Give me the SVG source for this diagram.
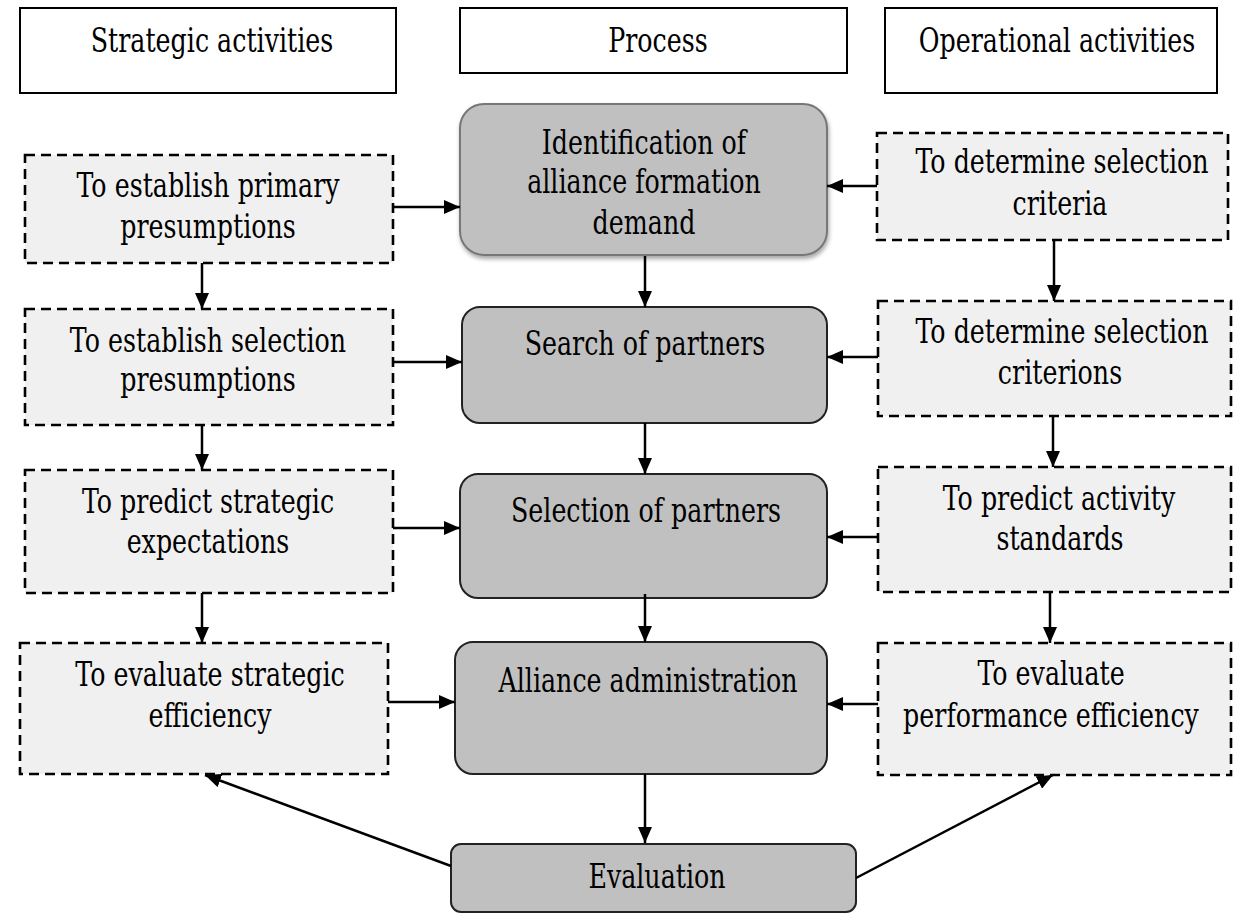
<svg xmlns="http://www.w3.org/2000/svg" width="1235" height="913" viewBox="0 0 1235 913">
<style>
text{font-family:"DejaVu Serif",serif;font-size:34px;fill:#000;text-anchor:middle}
.hdr{fill:#fff;stroke:#000;stroke-width:2}
.dash{fill:#f0f0f0;stroke:#000;stroke-width:2.6;stroke-dasharray:10 6}
.proc{fill:#c0c0c0;stroke:#222;stroke-width:2}
.con{stroke:#000;stroke-width:2.5;fill:none;marker-end:url(#ah)}
</style>
<defs>
<marker id="ah" viewBox="0 0 16 14" refX="16" refY="7" markerWidth="16" markerHeight="14" markerUnits="userSpaceOnUse" orient="auto">
<path d="M0,0 L16,7 L0,14 Z" fill="#000"/>
</marker>
<filter id="sh" x="-10%" y="-10%" width="120%" height="130%">
<feDropShadow dx="1" dy="3" stdDeviation="2" flood-color="#000" flood-opacity="0.35"/>
</filter>
</defs>
<rect width="1235" height="913" fill="#fff"/>
<g id="h-strategic"><rect class="hdr" x="20" y="8" width="376" height="85"/><text transform="translate(212,52) scale(.745,1)">Strategic activities</text></g>
<g id="h-process"><rect class="hdr" x="460" y="8" width="387" height="65"/><text transform="translate(658,52) scale(.745,1)">Process</text></g>
<g id="h-operational"><rect class="hdr" x="885" y="8" width="332" height="85"/><text transform="translate(1057,52) scale(.745,1)">Operational activities</text></g>

<g id="s1"><rect class="dash" x="25" y="155" width="368" height="108"/><text transform="translate(208,197) scale(.745,1)">To establish primary</text><text transform="translate(208,238) scale(.745,1)">presumptions</text></g>
<g id="s2"><rect class="dash" x="25" y="309" width="368" height="116"/><text transform="translate(208,352) scale(.745,1)">To establish selection</text><text transform="translate(208,391) scale(.745,1)">presumptions</text></g>
<g id="s3"><rect class="dash" x="25" y="470" width="368" height="123"/><text transform="translate(208,513) scale(.745,1)">To predict strategic</text><text transform="translate(208,553) scale(.745,1)">expectations</text></g>
<g id="s4"><rect class="dash" x="20" y="643" width="368" height="131"/><text transform="translate(210,686) scale(.745,1)">To evaluate strategic</text><text transform="translate(210,727) scale(.745,1)">efficiency</text></g>

<g id="p1"><rect class="proc" x="460" y="104" width="367" height="151" rx="24" style="stroke:#777" filter="url(#sh)"/><text transform="translate(644,154) scale(.745,1)">Identification of</text><text transform="translate(644,193) scale(.745,1)">alliance formation</text><text transform="translate(644,234) scale(.745,1)">demand</text></g>
<g id="p2"><rect class="proc" x="462" y="307" width="365" height="116" rx="18"/><text transform="translate(645,355) scale(.745,1)">Search of partners</text></g>
<g id="p3"><rect class="proc" x="460" y="474" width="367" height="124" rx="18"/><text transform="translate(646,522) scale(.745,1)">Selection of partners</text></g>
<g id="p4"><rect class="proc" x="455" y="642" width="372" height="132" rx="18"/><text transform="translate(648,692) scale(.745,1)">Alliance administration</text></g>
<g id="p5"><rect class="proc" x="451" y="844" width="405" height="68" rx="10"/><text transform="translate(657,888) scale(.745,1)">Evaluation</text></g>

<g id="o1"><rect class="dash" x="877" y="133" width="351" height="107"/><text transform="translate(1062,173) scale(.745,1)">To determine selection</text><text transform="translate(1060,215) scale(.745,1)">criteria</text></g>
<g id="o2"><rect class="dash" x="878" y="301" width="353" height="115"/><text transform="translate(1062,343) scale(.745,1)">To determine selection</text><text transform="translate(1060,384) scale(.745,1)">criterions</text></g>
<g id="o3"><rect class="dash" x="878" y="467" width="353" height="125"/><text transform="translate(1059,510) scale(.745,1)">To predict activity</text><text transform="translate(1060,550) scale(.745,1)">standards</text></g>
<g id="o4"><rect class="dash" x="878" y="643" width="353" height="132"/><text transform="translate(1051,685) scale(.745,1)">To evaluate</text><text transform="translate(1051,727) scale(.745,1)">performance efficiency</text></g>

<g id="connectors">
<line class="con" x1="393" y1="207" x2="460" y2="207"/>
<line class="con" x1="393" y1="362" x2="462" y2="362"/>
<line class="con" x1="393" y1="528" x2="460" y2="528"/>
<line class="con" x1="388" y1="702" x2="455" y2="702"/>
<line class="con" x1="877" y1="186" x2="827" y2="186"/>
<line class="con" x1="878" y1="357" x2="827" y2="357"/>
<line class="con" x1="878" y1="537" x2="827" y2="537"/>
<line class="con" x1="878" y1="704" x2="827" y2="704"/>
<line class="con" x1="645" y1="256" x2="645" y2="307"/>
<line class="con" x1="645" y1="423" x2="645" y2="474"/>
<line class="con" x1="645" y1="594" x2="645" y2="642"/>
<line class="con" x1="645" y1="774" x2="645" y2="843"/>
<line class="con" x1="202" y1="263" x2="202" y2="309"/>
<line class="con" x1="202" y1="425" x2="202" y2="470"/>
<line class="con" x1="202" y1="593" x2="202" y2="643"/>
<line class="con" x1="1054" y1="240" x2="1054" y2="301"/>
<line class="con" x1="1053" y1="416" x2="1053" y2="467"/>
<line class="con" x1="1050" y1="592" x2="1050" y2="643"/>
<line class="con" x1="451" y1="866" x2="205" y2="775"/>
<line class="con" x1="856" y1="878" x2="1053" y2="775"/>
</g>
</svg>
